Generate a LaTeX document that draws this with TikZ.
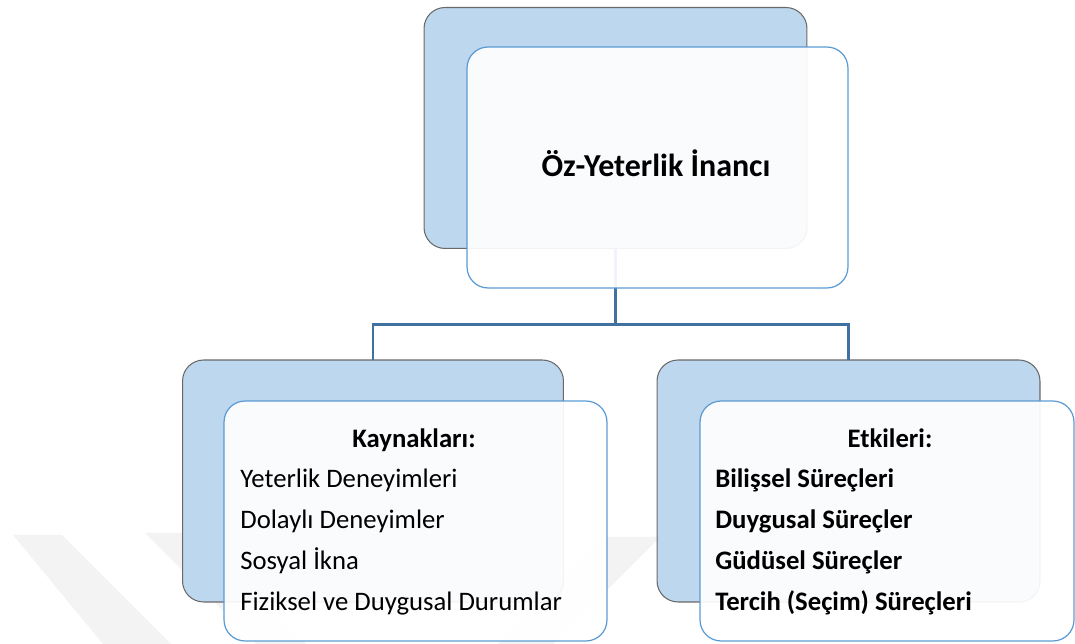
\documentclass[tikz,border=0pt]{standalone}
\usepackage{fontspec}
\setmainfont{Carlito}
\definecolor{backblue}{RGB}{189,215,238}
\definecolor{backline}{RGB}{105,105,105}
\definecolor{frontline}{RGB}{91,155,213}
\definecolor{connblue}{RGB}{65,113,160}
\definecolor{wmark}{RGB}{243,243,243}
\tikzset{
  backbox/.style={draw=backline, line width=0.6pt, fill=backblue, rounded corners=0.42cm, inner sep=0pt, outer sep=0pt},
  frontbox/.style={draw=frontline, line width=0.7pt, fill=white, fill opacity=0.92, rounded corners=0.42cm, inner sep=0pt, outer sep=0pt},
  conn/.style={draw=connblue, line width=1.3pt},
  titletext/.style={font=\fontsize{18.2}{22}\selectfont\bfseries, inner sep=0pt, anchor=base},
  headtext/.style={font=\fontsize{15.2}{18}\selectfont\bfseries, inner sep=0pt, anchor=base},
  itemtext/.style={font=\fontsize{15.2}{18}\selectfont, inner sep=0pt, anchor=base west},
  itembold/.style={font=\fontsize{15.2}{18}\selectfont\bfseries, inner sep=0pt, anchor=base west}
}
\begin{document}
\begin{tikzpicture}[x=0.02cm,y=-0.02cm]
\useasboundingbox (0,0) rectangle (1075,644);
% faint watermark
\fill[wmark] (13,535) -- (62,535) -- (171,644) -- (103,644) -- cycle;
\fill[wmark] (145,533) -- (195,533) -- (306,644) -- (256,644) -- cycle;
\fill[wmark] (605,537) -- (660,537) -- (553,644) -- (498,644) -- cycle;
% top
\node[backbox, minimum width=7.66cm, minimum height=4.82cm] (topback) at (615.5,128) {};
% bottom back boxes
\node[backbox, minimum width=7.62cm, minimum height=4.84cm] (leftback) at (373,481) {};
\node[backbox, minimum width=7.66cm, minimum height=4.84cm] (rightback) at (848.5,481) {};
% connectors
\draw[conn] (topback.south) -- ++(0,76) -| (leftback.north);
\draw[conn] (topback.south) -- ++(0,76) -| (rightback.north);
% front boxes
\node[frontbox, minimum width=7.62cm, minimum height=4.82cm] (topfront) at (657.5,167.5) {};
\node[frontbox, minimum width=7.66cm, minimum height=4.8cm] (leftfront) at (415.5,521) {};
\node[frontbox, minimum width=7.48cm, minimum height=4.8cm] (rightfront) at (887,521) {};
% texts
\node[titletext] (title) at (656,177) {Öz-Yeterlik İnancı};
\node[headtext] (kh) at (414,448) {Kaynakları:};
\node[itemtext] (k1) at (240,488) {Yeterlik Deneyimleri};
\node[itemtext] (k2) at (240,529) {Dolaylı Deneyimler};
\node[itemtext] (k3) at (240,570) {Sosyal İkna};
\node[itemtext] (k4) at (240,611) {Fiziksel ve Duygusal Durumlar};
\node[headtext] (eh) at (890,448) {Etkileri:};
\node[itembold] (e1) at (715,488) {Bilişsel Süreçleri};
\node[itembold] (e2) at (715,529) {Duygusal Süreçler};
\node[itembold] (e3) at (715,570) {Güdüsel Süreçler};
\node[itembold] (e4) at (715,611) {Tercih (Seçim) Süreçleri};
\end{tikzpicture}
\end{document}
